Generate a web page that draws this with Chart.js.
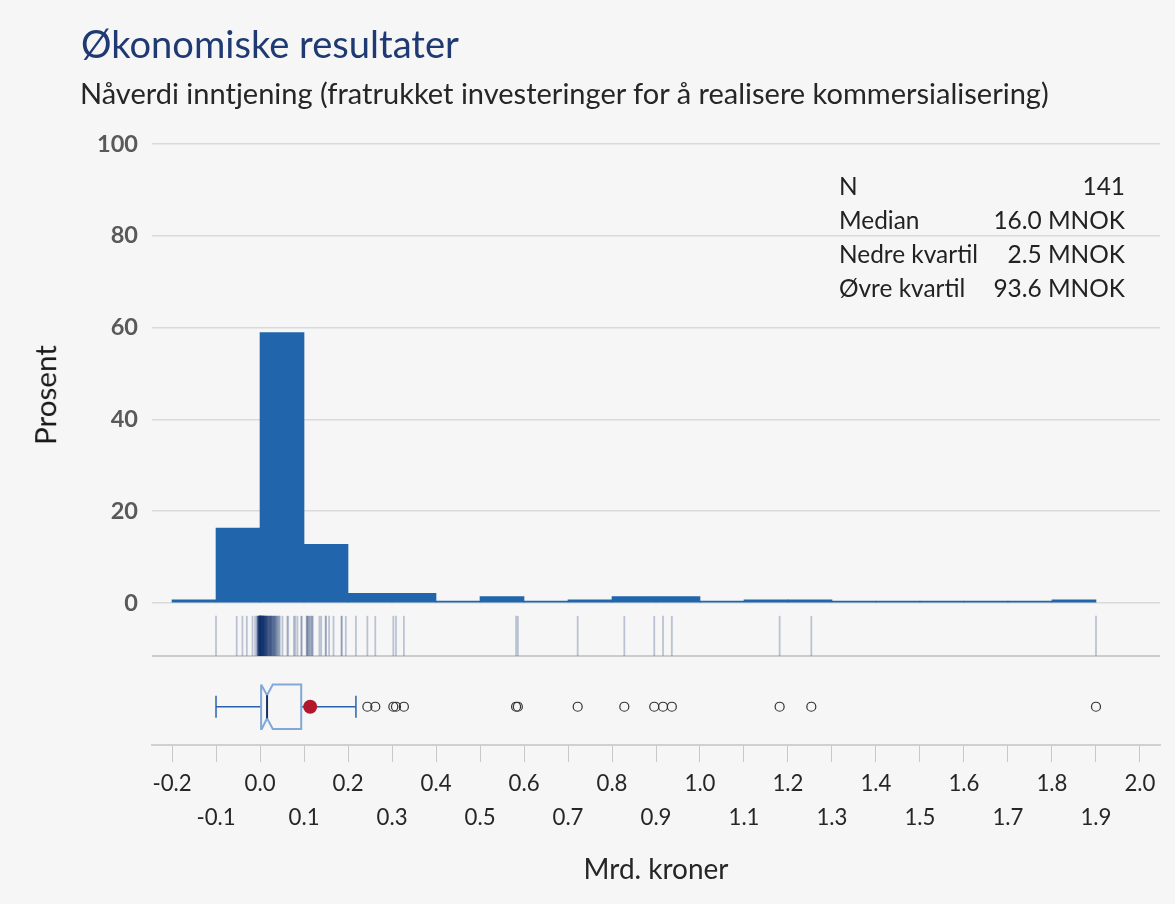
<!DOCTYPE html>
<html lang="no">
<head>
<meta charset="utf-8">
<title>Økonomiske resultater</title>
<script src="https://cdn.jsdelivr.net/npm/chart.js@4.4.1/dist/chart.umd.min.js"></script>
<style>
  html, body { margin: 0; background: #f6f6f6; }
  #wrap { position: relative; width: 1175px; height: 904px; overflow: hidden; font-family: Lato, sans-serif; }
  #chart { position: absolute; left: 0; top: 0; }
  .txt { position: absolute; white-space: nowrap; line-height: 1; }
  #title { left: 81px; color: #1f3a73; }
  #subtitle { left: 80px; color: #262626; }
  #ytitle { left: 45px; top: 395px; color: #1a1a1a; transform: translate(-50%, -50%) rotate(-90deg); }
  #stats { position: absolute; left: 839px; width: 286px; color: #222; }
  #stats div { display: flex; justify-content: space-between; height: 34px; line-height: 34px; white-space: nowrap; }
</style>
</head>
<body>
<div id="wrap">
  <canvas id="chart" width="1175" height="904"></canvas>
  <div id="title" class="txt">Økonomiske resultater</div>
  <div id="subtitle" class="txt">Nåverdi inntjening (fratrukket investeringer for å realisere kommersialisering)</div>
  <div id="ytitle" class="txt">Prosent</div>
  <div id="stats"></div>
</div>
<script>
// histogram: share of projects (%) in each 0.1 Mrd. kroner bin, bins start at these values
var binStarts = [-0.2, -0.1, 0.0, 0.1, 0.2, 0.3, 0.4, 0.5, 0.6, 0.7, 0.8, 0.9, 1.0, 1.1, 1.2, 1.3, 1.4, 1.5, 1.6, 1.7, 1.8];
var binPercent = [0.7, 16.3, 58.9, 12.8, 2.1, 2.1, 0, 1.4, 0, 0.7, 1.4, 1.4, 0, 0.7, 0.7, 0, 0, 0, 0, 0, 0.7];
var binWidth = 0.1;

// one value per project (Mrd. kroner), drawn as the rug
var projectValues = [
    -0.100,
    -0.053, -0.040, -0.030, -0.017, -0.011,
    -0.007, -0.006, -0.005, -0.004, -0.004, -0.003, -0.003, -0.002, -0.002, -0.002, -0.001, -0.001, -0.001, -0.001, 0.000, 0.000, 0.000, 0.000,
    0.0005, 0.0008, 0.001, 0.001, 0.0012, 0.0015, 0.0015, 0.0018, 0.002, 0.002, 0.0022, 0.0025,
    0.003, 0.003, 0.0035, 0.004, 0.004, 0.0045, 0.005, 0.005, 0.0055, 0.006, 0.006, 0.0065, 0.007, 0.007, 0.0075, 0.008, 0.008, 0.0085,
    0.009, 0.009, 0.0095, 0.010, 0.010, 0.011, 0.011, 0.012, 0.012, 0.013, 0.013, 0.014, 0.014, 0.015, 0.015, 0.016, 0.016,
    0.017, 0.018, 0.019, 0.019, 0.020, 0.021, 0.022, 0.022, 0.023, 0.024, 0.025, 0.025, 0.026, 0.027, 0.028, 0.029, 0.030, 0.031,
    0.032, 0.033, 0.034, 0.035, 0.036, 0.038, 0.039, 0.041, 0.043, 0.045, 0.051, 0.062, 0.064, 0.077, 0.080, 0.085, 0.0936,
    0.095,
    0.106, 0.107, 0.108, 0.110, 0.112, 0.114, 0.117, 0.118, 0.120, 0.135, 0.139, 0.149, 0.150, 0.157, 0.167, 0.185, 0.186, 0.195,
    0.218, 0.244, 0.262,
    0.303, 0.309, 0.327,
    0.582, 0.586, 0.722, 0.828, 0.896, 0.916, 0.936, 1.181, 1.253, 1.900
];

// box plot (Mrd. kroner)
var whiskerLow = -0.100, q1 = 0.0025, notchLow = 0.004, median = 0.016;
var notchHigh = 0.029, q3 = 0.0936, whiskerHigh = 0.218, mean = 0.114;
var outliers = [0.244, 0.262, 0.303, 0.309, 0.327, 0.582, 0.586, 0.722, 0.828, 0.896, 0.916, 0.936, 1.181, 1.253, 1.900];

var statLabels = ['N', 'Median', 'Nedre kvartil', 'Øvre kvartil'];
var statValues = ['141', '16.0 MNOK', '2.5 MNOK', '93.6 MNOK'];

// where things sit inside the rug / box panels (0..1 of panel height)
var rugY = 0.38, boxMid = 0.43, boxHalf = 0.25, notchInset = 0.12;

// font size that makes a text a given width in Lato
var meter = document.createElement('canvas').getContext('2d');
function fitSize(text, width, weight) {
    meter.font = (weight || 'normal') + ' 100px Lato';
    return Math.round(10000 * width / meter.measureText(text).width) / 100;
}

function placeText(id, width, baseline) {
    var el = document.getElementById(id);
    var size = fitSize(el.textContent, width);
    el.style.fontSize = size + 'px';
    if (baseline !== undefined) el.style.top = (baseline - 0.887 * size) + 'px';
}
placeText('title', 378, 58);
placeText('subtitle', 970, 104);
placeText('ytitle', 100);

// stats box top right
var statSize = fitSize('Nedre kvartil', 139);
var stats = document.getElementById('stats');
stats.style.fontSize = statSize + 'px';
stats.style.top = (195 - (17 + 0.387 * statSize)) + 'px';
statLabels.forEach(function (lab, i) {
    var row = document.createElement('div');
    var a = document.createElement('span');
    var b = document.createElement('span');
    a.textContent = lab;
    b.textContent = statValues[i];
    row.appendChild(a);
    row.appendChild(b);
    stats.appendChild(row);
});

var boxTop = boxMid + boxHalf, boxBot = boxMid - boxHalf;
var boxOutline = [
    {x: q1, y: boxTop}, {x: notchLow, y: boxTop}, {x: median, y: boxTop - notchInset}, {x: notchHigh, y: boxTop}, {x: q3, y: boxTop},
    {x: q3, y: boxBot}, {x: notchHigh, y: boxBot}, {x: median, y: boxBot + notchInset}, {x: notchLow, y: boxBot}, {x: q1, y: boxBot},
    {x: q1, y: boxTop}
];

var xTickSize = fitSize('0.0', 31);
var yTickSize = fitSize('100', 41, 'bold');
var xTitleSize = fitSize('Mrd. kroner', 145);

var whiskerColor = '#2b62ad';

new Chart(document.getElementById('chart'), {
    type: 'bar',
    data: {
        datasets: [
            {
                type: 'scatter', label: 'Gjennomsnitt', yAxisID: 'yBox',
                data: [{x: mean, y: boxMid}],
                pointRadius: 7, pointBackgroundColor: '#b2182b', pointBorderWidth: 0
            },
            {
                type: 'scatter', label: 'Uteliggere', yAxisID: 'yBox',
                data: outliers.map(function (v) { return {x: v, y: boxMid}; }),
                pointRadius: 4.5, pointBorderColor: '#333333', pointBorderWidth: 1.2, pointBackgroundColor: 'rgba(0,0,0,0)'
            },
            {
                type: 'scatter', label: 'Whisker-ender', yAxisID: 'yBox',
                data: [{x: whiskerLow, y: boxMid}, {x: whiskerHigh, y: boxMid}],
                pointStyle: 'line', pointRotation: 90, pointRadius: 11, pointBorderColor: whiskerColor, pointBorderWidth: 1.5
            },
            {
                type: 'line', label: 'Median', yAxisID: 'yBox',
                data: [{x: median, y: boxTop - notchInset}, {x: median, y: boxBot + notchInset}],
                borderColor: '#17325e', borderWidth: 2, pointRadius: 0
            },
            {
                type: 'line', label: 'Boks', yAxisID: 'yBox',
                data: boxOutline,
                borderColor: '#82a8d8', borderWidth: 2, pointRadius: 0
            },
            {
                type: 'line', label: 'Nedre whisker', yAxisID: 'yBox',
                data: [{x: whiskerLow, y: boxMid}, {x: q1, y: boxMid}],
                borderColor: whiskerColor, borderWidth: 1.5, pointRadius: 0
            },
            {
                type: 'line', label: 'Øvre whisker', yAxisID: 'yBox',
                data: [{x: q3, y: boxMid}, {x: whiskerHigh, y: boxMid}],
                borderColor: whiskerColor, borderWidth: 1.5, pointRadius: 0
            },
            {
                type: 'scatter', label: 'Prosjekter', yAxisID: 'yRug',
                data: projectValues.map(function (v) { return {x: v, y: rugY}; }),
                pointStyle: 'line', pointRotation: 90, pointRadius: 20,
                pointBorderColor: 'rgba(20,50,110,0.26)', pointBorderWidth: 1.8
            },
            {
                type: 'bar', label: 'Prosent', yAxisID: 'y',
                data: binStarts.map(function (s, i) { return {x: s + binWidth / 2, y: binPercent[i]}; }),
                backgroundColor: '#2166ac', borderWidth: 0,
                barPercentage: 1, categoryPercentage: 1, minBarLength: 2
            }
        ]
    },
    options: {
        responsive: false,
        animation: false,
        devicePixelRatio: 1,
        events: [],
        // the long rug ticks would otherwise push the plot in from the edges
        layout: { autoPadding: false, padding: { left: 82, top: 144, right: 15, bottom: 19 } },
        plugins: {
            legend: { display: false },
            tooltip: { enabled: false }
        },
        scales: {
            x: {
                type: 'linear',
                offset: false,
                min: -0.2455,
                max: 2.0455,
                border: { display: true, color: '#d0d0d0', width: 2 },
                grid: { offset: false, drawOnChartArea: false, drawTicks: true, tickLength: 17, color: '#c8c8c8', lineWidth: 1 },
                ticks: {
                    stepSize: 0.1,
                    includeBounds: false,
                    autoSkip: false,
                    maxRotation: 0,
                    minRotation: 0,
                    padding: 5,
                    color: '#262626',
                    font: { family: 'Lato', size: xTickSize, lineHeight: '34px' },
                    callback: function (value) {
                        var s = value.toFixed(1);
                        return Math.round(value * 10) % 2 === 0 ? [s, ''] : ['', s];
                    }
                },
                title: {
                    display: true,
                    text: 'Mrd. kroner',
                    color: '#262626',
                    font: { family: 'Lato', size: xTitleSize, lineHeight: '30px' },
                    padding: { top: 15, bottom: 0 }
                }
            },
            y: {
                position: 'left', stack: 'panels', stackWeight: 459, weight: 3,
                min: 0, max: 100,
                border: { display: false },
                grid: { color: '#dadada', lineWidth: 1.5, drawTicks: false },
                ticks: {
                    stepSize: 20, padding: 14, color: '#595959',
                    font: { family: 'Lato', size: yTickSize, weight: 'bold' }
                },
                afterFit: function (scale) { scale.width = 70; }
            },
            yRug: {
                position: 'left', stack: 'panels', stackWeight: 53, weight: 2,
                min: 0, max: 1,
                border: { display: false },
                grid: { color: '#cccccc', lineWidth: 2, drawTicks: false },
                ticks: { display: false },
                afterBuildTicks: function (scale) { scale.ticks = [{value: 0}]; }
            },
            yBox: {
                position: 'left', stack: 'panels', stackWeight: 89, weight: 1,
                min: 0, max: 1,
                border: { display: false },
                grid: { display: false },
                ticks: { display: false }
            }
        }
    }
});
</script>
</body>
</html>
